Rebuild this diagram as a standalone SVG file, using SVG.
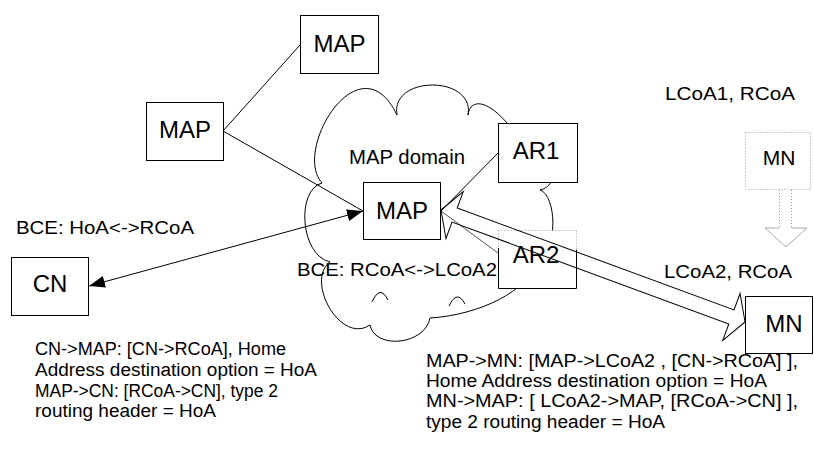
<svg xmlns="http://www.w3.org/2000/svg" width="814" height="454" viewBox="0 0 814 454">
  <style>
    .box { fill: #fff; stroke: #000; stroke-width: 1; }
    .lbl { font-family: "Liberation Sans", Arial, sans-serif; font-size: 24px; fill: #000; text-anchor: middle; }
    .txt { font-family: "Liberation Sans", Arial, sans-serif; font-size: 18px; fill: #000; }
    .ln { stroke: #000; stroke-width: 1; fill: none; }
    .dot { stroke: #999; stroke-width: 1; stroke-dasharray: 1 2; fill: none; }
  </style>
  <defs>
    <marker id="ah" viewBox="0 0 16 12" refX="16" refY="6" markerWidth="16" markerHeight="12" markerUnits="userSpaceOnUse" orient="auto-start-reverse">
      <path d="M0,0 L16,6 L0,12 z" fill="#000"/>
    </marker>
  </defs>

  <rect width="814" height="454" fill="#fff"/>

  <!-- MAP domain cloud -->
  <g id="cloud">
    <path class="ln" fill="#fff" d="M 322 183 C 292 150 360 38 397 115 C 390 75 475 75 468 115 C 470 98 490 96 520 140 C 560 130 565 185 540 190 C 556 195 560 250 535 262 C 530 290 480 315 430 318 C 425 345 375 350 370 325 C 340 345 305 280 330 262 C 300 255 296 190 322 183 Z"/>
    <path class="ln" d="M 372 302 Q 380 284 388 300 M 449 306 Q 457 289 465 304"/>
    <text class="txt" x="349" y="164" style="font-size:20px" textLength="116" lengthAdjust="spacingAndGlyphs">MAP domain</text>
  </g>

  <g id="map-top">
    <rect class="box" x="300.5" y="15.5" width="78" height="58"/>
    <text class="lbl" x="339.5" y="52">MAP</text>
  </g>
  <g id="map-left">
    <rect class="box" x="146.5" y="102.5" width="77" height="58"/>
    <text class="lbl" x="185" y="138">MAP</text>
  </g>
  <g id="map-center">
    <rect class="box" x="363.5" y="182.5" width="77" height="57"/>
    <text class="lbl" x="402" y="219">MAP</text>
  </g>
  <g id="ar1">
    <rect class="box" x="498.5" y="123.5" width="79" height="59"/>
    <text class="lbl" x="536" y="159">AR1</text>
  </g>
  <g id="ar2">
    <rect x="498.5" y="230.5" width="78" height="58" fill="#fff"/>
    <path class="dot" d="M 498.5 230.5 H 576.5 M 498.5 230.5 V 248 M 576.5 230.5 V 250"/>
    <path class="ln" d="M 498.5 248 V 288.5 H 576.5 V 250"/>
    <text class="lbl" x="536" y="263">AR2</text>
  </g>
  <g id="cn">
    <rect class="box" x="11.5" y="257.5" width="77" height="58"/>
    <text class="lbl" x="50" y="292">CN</text>
  </g>
  <g id="mn-old">
    <rect x="745.5" y="132.5" width="65" height="57" fill="#fff" stroke="#999" stroke-width="1" stroke-dasharray="1 2"/>
    <text class="lbl" x="779" y="165" style="font-size:21px" fill="#aaa">MN</text>
  </g>
  <g id="mn">
    <rect class="box" x="745.5" y="296.5" width="67" height="57"/>
    <text class="lbl" x="784" y="332">MN</text>
  </g>

  <!-- connectors -->
  <g id="connectors">
    <line class="ln" x1="223" y1="131" x2="300" y2="45"/>
    <line class="ln" x1="223" y1="131" x2="363" y2="211"/>
    <line class="ln" x1="89" y1="286" x2="363" y2="211" marker-start="url(#ah)" marker-end="url(#ah)"/>
    <line class="ln" x1="441" y1="211" x2="498" y2="153"/>
    <line x1="441" y1="211" x2="498" y2="253" stroke="#555" stroke-width="1"/>
    <!-- hollow two-way arrow MAP <-> MN -->
    <polygon class="ln" transform="translate(441 210) rotate(20.22)" points="0,0 14.5,-25 14.5,-7.5 309.5,-7.5 309.5,-25 324,0 309.5,25 309.5,7.5 14.5,7.5 14.5,25"/>
    <!-- movement of MN -->
    <g id="move-arrow">
      <path class="dot" d="M 779.5 190 V 228 M 791.5 190 V 228"/>
      <path d="M 779.5 228 H 765 L 786 247 L 807 228 H 791.5" fill="none" stroke="#aaa" stroke-width="1"/>
    </g>
  </g>

  <!-- annotations -->
  <g id="labels">
    <text class="txt" x="665" y="100" textLength="130" lengthAdjust="spacingAndGlyphs">LCoA1, RCoA</text>
    <text class="txt" x="16" y="234" textLength="178" lengthAdjust="spacingAndGlyphs">BCE: HoA&lt;-&gt;RCoA</text>
    <text class="txt" x="297" y="276" textLength="200" lengthAdjust="spacingAndGlyphs">BCE: RCoA&lt;-&gt;LCoA2</text>
    <text class="txt" x="664" y="278" textLength="128" lengthAdjust="spacingAndGlyphs">LCoA2, RCoA</text>
    <text class="txt" x="35" y="355" textLength="251" lengthAdjust="spacingAndGlyphs">CN-&gt;MAP: [CN-&gt;RCoA], Home</text>
    <text class="txt" x="35" y="376" textLength="282" lengthAdjust="spacingAndGlyphs">Address destination option = HoA</text>
    <text class="txt" x="35" y="397" textLength="243" lengthAdjust="spacingAndGlyphs">MAP-&gt;CN: [RCoA-&gt;CN], type 2</text>
    <text class="txt" x="35" y="417" textLength="181" lengthAdjust="spacingAndGlyphs">routing header = HoA</text>
    <text class="txt" x="426" y="367" textLength="372" lengthAdjust="spacingAndGlyphs">MAP-&gt;MN: [MAP-&gt;LCoA2 , [CN-&gt;RCoA] ],</text>
    <text class="txt" x="426" y="387" textLength="341" lengthAdjust="spacingAndGlyphs">Home Address destination option = HoA</text>
    <text class="txt" x="426" y="407" textLength="372" lengthAdjust="spacingAndGlyphs">MN-&gt;MAP: [ LCoA2-&gt;MAP, [RCoA-&gt;CN] ],</text>
    <text class="txt" x="426" y="428" textLength="239" lengthAdjust="spacingAndGlyphs">type 2 routing header = HoA</text>
  </g>
</svg>
